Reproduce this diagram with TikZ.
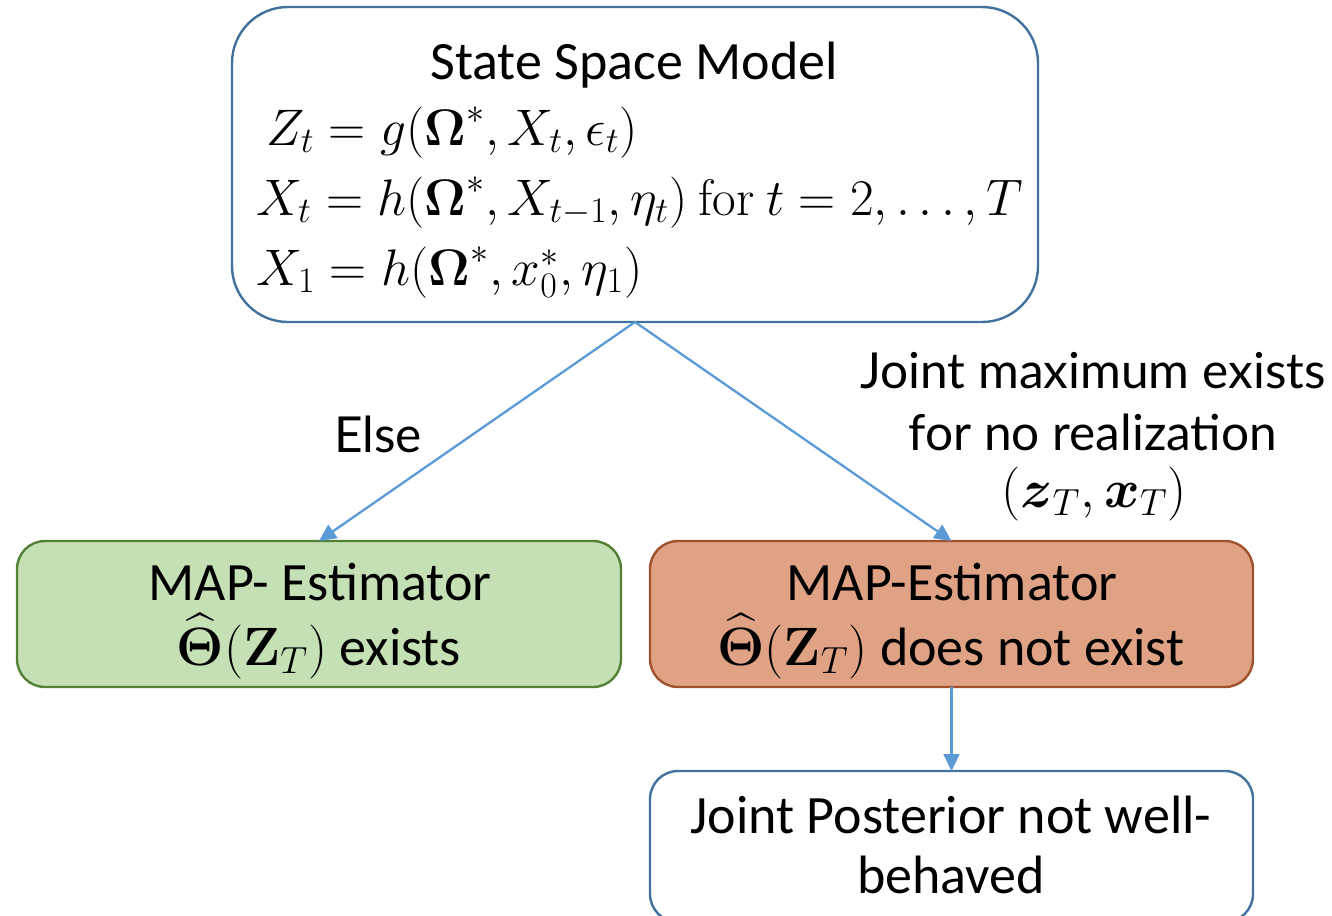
\RequirePackage{fix-cm}
\documentclass[tikz,border=0pt]{standalone}
\usepackage{amsmath}
\usepackage[no-math]{fontspec}
\setmainfont{Carlito}
\newfontfamily\gillfont{Lato}
\usetikzlibrary{arrows.meta}
\definecolor{boxblue}{HTML}{41719C}
\definecolor{arrowblue}{HTML}{5B9BD5}
\definecolor{greenfill}{HTML}{C5E0B4}
\definecolor{greenline}{HTML}{538135}
\definecolor{orangefill}{HTML}{DFA284}
\definecolor{orangeline}{HTML}{A0522D}
\tikzset{
  box/.style={draw, line width=1.2pt, inner sep=0pt, outer sep=0pt},
  conn/.style={draw=arrowblue, line width=1.15pt, -{Triangle[length=8.5pt,width=8pt]}},
  boxtext/.style={anchor=base, inner sep=0pt, font=\fontsize{27}{32}\selectfont},
  eqtext/.style={anchor=base west, inner sep=0pt, font=\fontsize{25.7}{30}\selectfont},
  lbltext/.style={anchor=base, inner sep=0pt, font=\gillfont\fontsize{24.8}{30}\selectfont},
}
\begin{document}
\begin{tikzpicture}[x=0.5pt,y=-0.5pt]
\useasboundingbox (0,0) rectangle (1332,915);
% boxes
\node[box, draw=boxblue, fill=white, rounded corners=28pt, minimum width=403pt, minimum height=157.5pt] (ssm) at (635,164.5) {};
\node[box, draw=greenline, fill=greenfill, rounded corners=14pt, minimum width=302pt, minimum height=73pt] (map1) at (319,614) {};
\node[box, draw=orangeline, fill=orangefill, rounded corners=14pt, minimum width=301.5pt, minimum height=73pt] (map2) at (951.5,614) {};
\node[box, draw=boxblue, fill=white, rounded corners=14pt, minimum width=301.5pt, minimum height=75.5pt] (post) at (951.5,846.5) {};
% top box text
\node[boxtext] (title) at (634,80) {State Space Model};
\node[eqtext] (eq1) at (266,145) {$Z_t = g(\boldsymbol{\Omega}^{*}, X_t, \epsilon_t)$};
\node[eqtext] (eq2) at (256,215) {$X_t = h(\boldsymbol{\Omega}^{*}, X_{t-1}, \eta_t)\ \mathrm{for}\ t = 2,\ldots,T$};
\node[eqtext] (eq3) at (256,285) {$X_1 = h(\boldsymbol{\Omega}^{*}, x_0^{*}, \eta_1)$};
% lower box texts
\node[boxtext] (g1) at (320,600) {MAP- Estimator};
\node[boxtext] (g2) at (319,665) {\smash{$\widehat{\boldsymbol{\Theta}}(\mathbf{Z}_T)$} exists};
\node[boxtext] (o1) at (952,600) {MAP-Estimator};
\node[boxtext] (o2) at (951,665) {\smash{$\widehat{\boldsymbol{\Theta}}(\mathbf{Z}_T)$} does not exist};
\node[boxtext] (p1) at (951,833) {Joint Posterior not well-};
\node[boxtext] (p2) at (951,893) {behaved};
% connectors
\draw[conn] (ssm.south) -- (map1.north);
\draw[conn] (ssm.south) -- (map2.north);
\draw[conn] (map2.south) -- (post.north);
% labels
\node[lbltext] (else) at (378,452) {Else};
\node[lbltext] (j1) at (1093,388) {Joint maximum exists};
\node[lbltext] (j2) at (1093,450) {for no realization};
\node[lbltext, font=\fontsize{27}{32}\selectfont] (j3) at (1094,507) {$(\boldsymbol{z}_T, \boldsymbol{x}_T)$};
\end{tikzpicture}
\end{document}
